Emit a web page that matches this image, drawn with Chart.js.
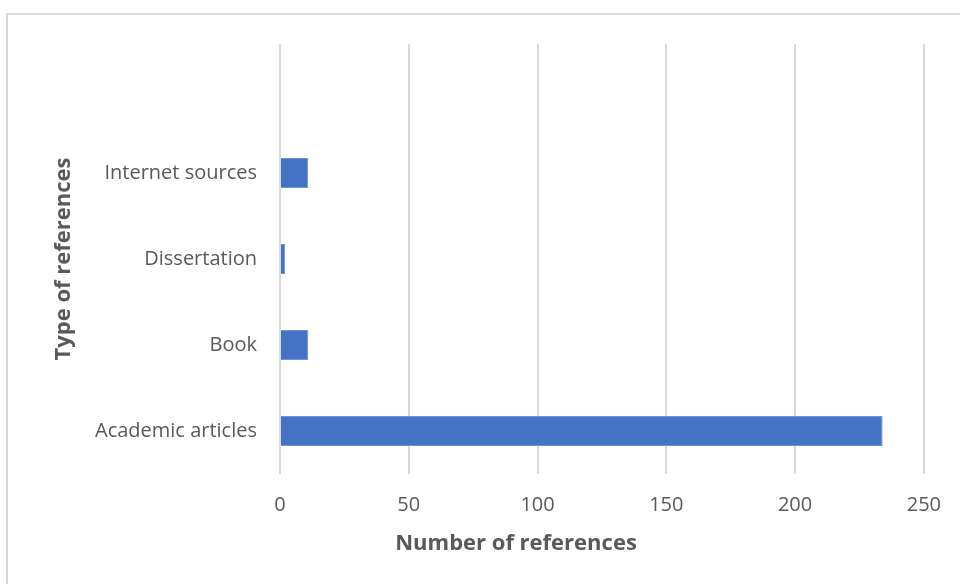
<!DOCTYPE html>
<html>
<head>
<meta charset="utf-8">
<script src="https://cdn.jsdelivr.net/npm/chart.js@4"></script>
<style>
    html, body { margin: 0; padding: 0; background: #fff; }
    #wrap { position: relative; width: 960px; height: 584px; overflow: hidden; }
    #frame {
        position: absolute; left: 6px; top: 13px; width: 1100px; height: 700px;
        border: 2px solid #d9d9d9; box-sizing: border-box;
    }
    canvas { position: absolute; left: 0; top: 0; }
</style>
</head>
<body>
<div id="wrap">
    <div id="frame"></div>
    <canvas id="chart" width="960" height="584"></canvas>
</div>
<script>
// Excel order, bottom to top; the top slot is an empty category
const categories = ['Academic articles', 'Book', 'Dissertation', 'Internet sources', ''];
const counts = [234, 11, 2, 11, null];
const xTicks = [0, 50, 100, 150, 200, 250];

const textGray = '#595959';
const font = 'Open Sans';

// axis titles drawn by hand so the x title sits where Excel put it
const axisTitles = {
    id: 'axisTitles',
    afterDraw(chart) {
        const { ctx, chartArea } = chart;
        ctx.save();
        ctx.fillStyle = textGray;
        ctx.font = `bold 22px "${font}"`;
        ctx.textAlign = 'center';
        ctx.textBaseline = 'middle';
        ctx.fillText('Number of references', 516, chartArea.bottom + 70);
        ctx.translate(64, (chartArea.top + chartArea.bottom) / 2);
        ctx.rotate(-Math.PI / 2);
        ctx.fillText('Type of references', 0, 0);
        ctx.restore();
    },
};

new Chart(document.getElementById('chart'), {
    type: 'bar',
    data: {
        labels: categories,
        datasets: [{
            data: counts,
            backgroundColor: '#4472c4',
            borderColor: '#6f93d6',
            borderWidth: 1,
            categoryPercentage: 1,
            barPercentage: 0.35,
        }],
    },
    options: {
        indexAxis: 'y',
        responsive: false,
        animation: false,
        layout: { padding: { left: 0, top: 44, right: 35, bottom: 0 } },
        plugins: { legend: { display: false }, tooltip: { enabled: false } },
        scales: {
            x: {
                min: 0,
                max: 250,
                afterBuildTicks: (scale) => { scale.ticks = xTicks.map((v) => ({ value: v })); },
                afterFit: (scale) => { scale.height = 110; },
                grid: { color: '#d9d9d9', lineWidth: 2, drawTicks: false },
                border: { display: false },
                ticks: { color: textGray, font: { family: font, size: 20 }, padding: 19 },
            },
            y: {
                reverse: true,
                afterFit: (scale) => { scale.width = 280; },
                grid: { display: false, drawTicks: false },
                border: { display: false },
                ticks: { color: textGray, font: { family: font, size: 20 }, padding: 23 },
            },
        },
    },
    plugins: [axisTitles],
});
</script>
</body>
</html>
